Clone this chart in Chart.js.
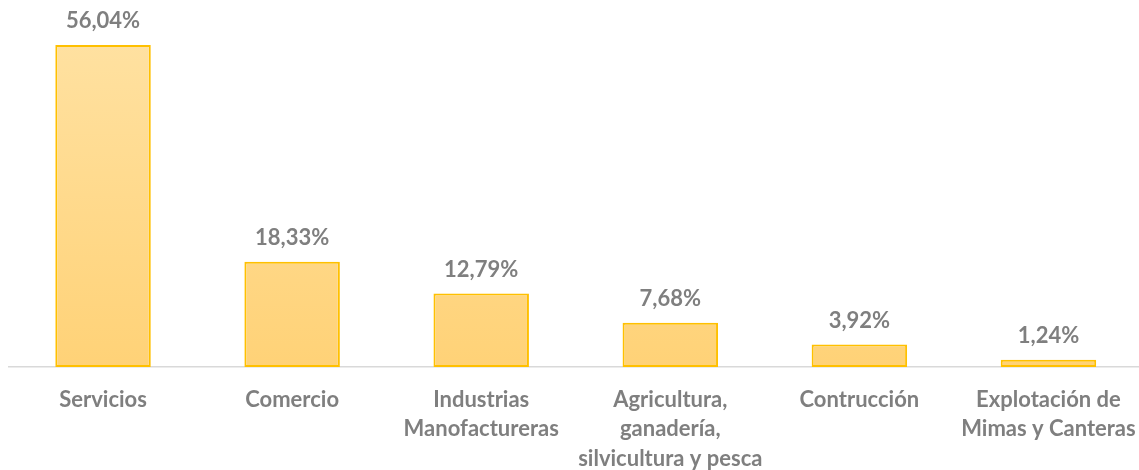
<!DOCTYPE html>
<html>
<head>
<meta charset="utf-8">
<script src="https://cdn.jsdelivr.net/npm/chart.js@4/dist/chart.umd.min.js"></script>
<style>
html,body{margin:0;padding:0;background:#fff;overflow:hidden;}
#wrap{width:1143px;height:470px;position:relative;}
</style>
</head>
<body>
<div id="wrap"><canvas id="c" width="1143" height="470"></canvas></div>
<script>
const categories = [
  "Servicios",
  "Comercio",
  ["Industrias", "Manofactureras"],
  ["Agricultura,", "ganadería,", "silvicultura y pesca"],
  "Contrucción",
  ["Explotación de", "Mimas y Canteras"]
];
const values = [56.04, 18.33, 12.79, 7.68, 3.92, 1.24];
const valueLabels = ["56,04%", "18,33%", "12,79%", "7,68%", "3,92%", "1,24%"];

const FONT = "Lato";
const GRAY = "#7f7f7f";

const labelPlugin = {
  id: 'valLabels',
  afterDatasetsDraw(chart) {
    const ctx = chart.ctx;
    const meta = chart.getDatasetMeta(0);
    ctx.save();
    ctx.font = "bold 22px " + FONT;
    ctx.fillStyle = GRAY;
    ctx.textAlign = "center";
    ctx.textBaseline = "middle";
    meta.data.forEach((bar, i) => {
      ctx.fillText(valueLabels[i], bar.x, bar.y - 24);
    });
    ctx.restore();
  }
};

function grad(context) {
  const chart = context.chart;
  const area = chart.chartArea;
  if (!area) return "#FFD98A";
  const g = chart.ctx.createLinearGradient(0, area.top, 0, area.bottom);
  g.addColorStop(0, "#FFE3A6");
  g.addColorStop(1, "#FFD277");
  return g;
}

new Chart(document.getElementById('c'), {
  type: 'bar',
  data: {
    labels: categories,
    datasets: [{
      data: values,
      backgroundColor: grad,
      borderColor: "#FFC000",
      borderWidth: 2,
      borderSkipped: false,
      categoryPercentage: 1,
      barPercentage: 0.505
    }]
  },
  options: {
    responsive: false,
    animation: false,
    events: [],
    layout: { padding: { left: 8.5, right: 0, top: 0, bottom: 0 } },
    plugins: { legend: { display: false }, tooltip: { enabled: false } },
    scales: {
      x: {
        grid: { display: false, drawTicks: false },
        border: { display: true, color: "#d9d9d9", width: 1.5 },
        ticks: {
          color: GRAY,
          font: { family: FONT, size: 22, weight: "bold", lineHeight: 1.34 },
          padding: 18,
          autoSkip: false,
          maxRotation: 0
        },
        afterFit(scale) {
          scale.height = 103;
          scale.paddingLeft = 0;
          scale.paddingRight = 0;
        }
      },
      y: {
        display: false,
        min: 0,
        max: 63.87
      }
    }
  },
  plugins: [labelPlugin]
});
</script>
</body>
</html>
